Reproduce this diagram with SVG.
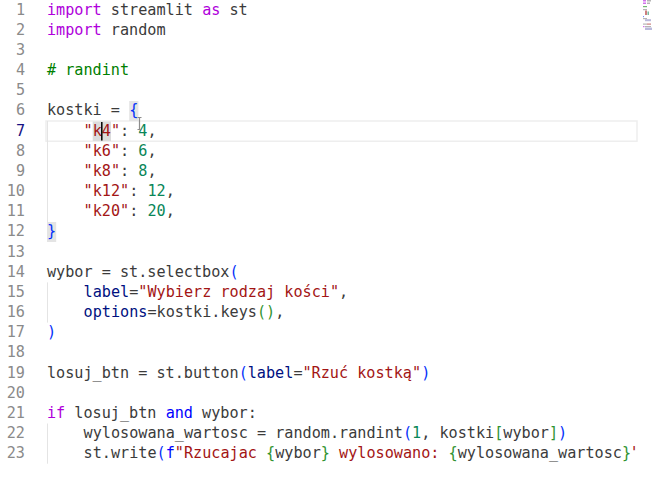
<svg xmlns="http://www.w3.org/2000/svg" width="652" height="483" viewBox="0 0 652 483">
<style>
text{font-family:"DejaVu Sans Mono","Liberation Mono",monospace;font-size:15.17px;fill:#3b3b3b;white-space:pre}
.ln{fill:#8a8a8a;text-anchor:end}
.lna{fill:#171184}
.kw{fill:#af00db}
.op{fill:#0000ff}
.cm{fill:#008000}
.s{fill:#a31515}
.n{fill:#098658}
.p{fill:#001080}
.b1{fill:#0431fa}
.b2{fill:#319331}
.guide{stroke:#e4e4e4;stroke-width:1}
</style>
<defs>
<clipPath id="editor"><rect x="0" y="0" width="635.5" height="483"/></clipPath>
</defs>
<rect width="652" height="483" fill="#ffffff"/>
<g id="highlights">
<rect x="46" y="121" width="591" height="20.2" fill="none" stroke="#eeeeee" stroke-width="1.5"/>
<rect x="129.2" y="101" width="9.2" height="20" fill="#e4e4e4"/>
<rect x="47" y="222" width="9.2" height="20" fill="#e4e4e4"/>
<rect x="92.7" y="121.5" width="18.3" height="19.5" fill="#dcdcdc"/>
<line class="guide" x1="47.5" y1="121" x2="47.5" y2="222"/>
<line class="guide" x1="47.5" y1="282.4" x2="47.5" y2="322.6"/>
<line class="guide" x1="47.5" y1="423.5" x2="47.5" y2="463.7"/>
</g>
<g id="line-numbers">
<text class="ln" x="25" y="14.5">1</text>
<text class="ln" x="25" y="34.67">2</text>
<text class="ln" x="25" y="54.84">3</text>
<text class="ln" x="25" y="75.01">4</text>
<text class="ln" x="25" y="95.18">5</text>
<text class="ln" x="25" y="115.35">6</text>
<text class="ln lna" x="25" y="135.52">7</text>
<text class="ln" x="25" y="155.69">8</text>
<text class="ln" x="25" y="175.86">9</text>
<text class="ln" x="25" y="196.03">10</text>
<text class="ln" x="25" y="216.2">11</text>
<text class="ln" x="25" y="236.37">12</text>
<text class="ln" x="25" y="256.54">13</text>
<text class="ln" x="25" y="276.71">14</text>
<text class="ln" x="25" y="296.88">15</text>
<text class="ln" x="25" y="317.05">16</text>
<text class="ln" x="25" y="337.22">17</text>
<text class="ln" x="25" y="357.39">18</text>
<text class="ln" x="25" y="377.56">19</text>
<text class="ln" x="25" y="397.73">20</text>
<text class="ln" x="25" y="417.9">21</text>
<text class="ln" x="25" y="438.07">22</text>
<text class="ln" x="25" y="458.24">23</text>
</g>
<g id="code" clip-path="url(#editor)">
<text x="47" y="14.5"><tspan class="kw">import</tspan> streamlit <tspan class="kw">as</tspan> st</text>
<text x="47" y="34.67"><tspan class="kw">import</tspan> random</text>
<text x="47" y="75.01" class="cm"># randint</text>
<text x="47" y="115.35">kostki = <tspan class="b1">{</tspan></text>
<text x="83.54" y="135.52"><tspan class="s">"k4"</tspan>: <tspan class="n">4</tspan>,</text>
<text x="83.54" y="155.69"><tspan class="s">"k6"</tspan>: <tspan class="n">6</tspan>,</text>
<text x="83.54" y="175.86"><tspan class="s">"k8"</tspan>: <tspan class="n">8</tspan>,</text>
<text x="83.54" y="196.03"><tspan class="s">"k12"</tspan>: <tspan class="n">12</tspan>,</text>
<text x="83.54" y="216.2"><tspan class="s">"k20"</tspan>: <tspan class="n">20</tspan>,</text>
<text x="47" y="236.37" class="b1">}</text>
<text x="47" y="276.71">wybor = st.selectbox<tspan class="b1">(</tspan></text>
<text x="83.54" y="296.88"><tspan class="p">label</tspan>=<tspan class="s">"Wybierz rodzaj kości"</tspan>,</text>
<text x="83.54" y="317.05"><tspan class="p">options</tspan>=kostki.keys<tspan class="b2">()</tspan>,</text>
<text x="47" y="337.22" class="b1">)</text>
<text x="47" y="377.56">losuj_btn = st.button<tspan class="b1">(</tspan><tspan class="p">label</tspan>=<tspan class="s">"Rzuć kostką"</tspan><tspan class="b1">)</tspan></text>
<text x="47" y="417.9"><tspan class="kw">if</tspan> losuj_btn <tspan class="op">and</tspan> wybor:</text>
<text x="83.54" y="438.07">wylosowana_wartosc = random.randint<tspan class="b1">(</tspan><tspan class="n">1</tspan>, kostki<tspan class="b2">[</tspan>wybor<tspan class="b2">]</tspan><tspan class="b1">)</tspan></text>
<text x="83.54" y="458.24">st.write<tspan class="b1">(</tspan><tspan class="op">f</tspan><tspan class="s">"Rzucajac </tspan><tspan class="b2">{</tspan>wybor<tspan class="b2">}</tspan><tspan class="s"> wylosowano: </tspan><tspan class="b2">{</tspan>wylosowana_wartosc<tspan class="b2">}</tspan><tspan class="s">"</tspan><tspan class="b1">)</tspan></text>
</g>
<g id="cursors">
<line x1="101.8" y1="122" x2="101.8" y2="140.5" stroke="#000000" stroke-width="1.5"/>
<path d="M137.5 117.5h4M139.5 117.5v12M137.5 129.5h4" fill="none" stroke="#8c8c8c" stroke-width="1.2"/>
</g>
<g id="minimap" opacity="0.55">
<rect x="643" y="0" width="3" height="1.5" fill="#af00db"/>
<rect x="647" y="0" width="4" height="1.5" fill="#7a7a7a"/>
<rect x="643" y="2.5" width="3" height="1.5" fill="#af00db"/>
<rect x="647" y="2.5" width="3" height="1.5" fill="#7a7a7a"/>
<rect x="643" y="6" width="4" height="1.2" fill="#008000"/>
<rect x="643" y="9" width="4" height="1.2" fill="#7a7a7a"/>
<rect x="645" y="10.5" width="2" height="4.5" fill="#a31515"/>
<rect x="647.5" y="11.5" width="1.5" height="3.5" fill="#098658"/>
<rect x="643" y="16" width="1" height="1.2" fill="#0431fa"/>
<rect x="643" y="18" width="4" height="1.2" fill="#7a7a7a"/>
<rect x="645" y="19.2" width="6" height="2" fill="#8080c0"/>
<rect x="643" y="23.5" width="4" height="1.2" fill="#7a7a7a"/>
<rect x="647" y="23.5" width="4" height="1.2" fill="#a31515"/>
<rect x="643" y="26" width="1.5" height="1.2" fill="#af00db"/>
<rect x="645" y="26" width="6" height="1.2" fill="#7a7a7a"/>
<rect x="645" y="27.6" width="7" height="2.4" fill="#8080c0"/>
</g>
</svg>
